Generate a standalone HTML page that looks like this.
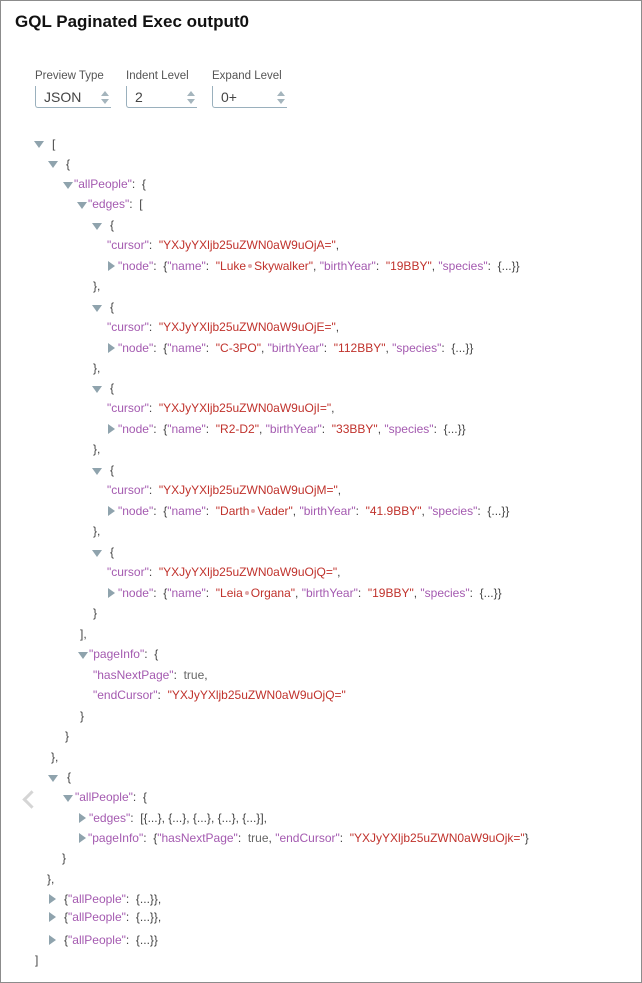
<!DOCTYPE html>
<html><head><meta charset="utf-8"><style>
body{margin:0;width:642px;height:983px;background:#fff;font-family:"Liberation Sans",sans-serif;position:relative;overflow:hidden}
.frame{position:absolute;left:0;top:0;width:640px;height:981px;border:1px solid #8c8c8c}
.title{position:absolute;left:15px;top:12px;font-size:17px;font-weight:bold;color:#111}
.lab{position:absolute;top:70px;font-size:11.5px;color:#555}
.sel{position:absolute;top:86px;height:22px;border:1px solid #9ab0bd;border-top:none;border-right:none;border-radius:0 0 0 3px;font-size:14px;color:#444;line-height:22px;padding-left:8px;box-sizing:border-box}
.sp{position:absolute;right:2px;top:5px;width:0;height:0;border-left:4px solid transparent;border-right:4px solid transparent;border-bottom:5px solid #a5b5bd}
.sp2{position:absolute;right:2px;top:13px;width:0;height:0;border-left:4px solid transparent;border-right:4px solid transparent;border-top:5px solid #a5b5bd}
.l{position:absolute;font-size:12px;line-height:14px;color:#444;white-space:pre}
.k{color:#a45ab0}.s{color:#c0322c}.g{color:#666}
.d{position:absolute;width:0;height:0;border-left:5px solid transparent;border-right:5px solid transparent;border-top:7px solid #8fa3ad}
.r{position:absolute;width:0;height:0;border-top:5px solid transparent;border-bottom:5px solid transparent;border-left:7px solid #8fa3ad}
.dot{display:inline-block;width:4px;height:4px;border-radius:2px;background:#e0a8a8;margin:0 2px 1px;vertical-align:middle}
.chev{position:absolute;left:25px;top:793px;width:10px;height:10px;border-left:3px solid #d5d5d5;border-bottom:3px solid #d5d5d5;transform:rotate(45deg)}
</style></head><body>
<div class="frame"></div>
<div class="title">GQL Paginated Exec output0</div>
<div class="lab" style="left:35px">Preview Type</div>
<div class="lab" style="left:126px">Indent Level</div>
<div class="lab" style="left:212px">Expand Level</div>
<div class="sel" style="left:35px;width:76px">JSON<span class="sp"></span><span class="sp2"></span></div>
<div class="sel" style="left:126px;width:71px">2<span class="sp"></span><span class="sp2"></span></div>
<div class="sel" style="left:212px;width:75px">0+<span class="sp"></span><span class="sp2"></span></div>
<div class="chev"></div>

<div class="d" style="left:34px;top:141px"></div><div class="l" style="left:52px;top:137px">[</div>
<div class="d" style="left:48px;top:161px"></div><div class="l" style="left:66px;top:157px">{</div>
<div class="d" style="left:63px;top:182px"></div><div class="l" style="left:74px;top:177px"><span class="k">"allPeople"</span>:  {</div>
<div class="d" style="left:77px;top:202px"></div><div class="l" style="left:88px;top:197px"><span class="k">"edges"</span>:  [</div>

<div class="d" style="left:92px;top:223px"></div><div class="l" style="left:110px;top:218px">{</div>
<div class="l" style="left:107px;top:238px"><span class="k">"cursor"</span>:  <span class="s">"YXJyYXljb25uZWN0aW9uOjA="</span>,</div>
<div class="r" style="left:108px;top:261px"></div><div class="l" style="left:118px;top:259px"><span class="k">"node"</span>:  {<span class="k">"name"</span>:  <span class="s">"Luke<span class="dot"></span>Skywalker"</span>, <span class="k">"birthYear"</span>:  <span class="s">"19BBY"</span>, <span class="k">"species"</span>:  {...}}</div>
<div class="l" style="left:93px;top:279px">},</div>

<div class="d" style="left:92px;top:305px"></div><div class="l" style="left:110px;top:300px">{</div>
<div class="l" style="left:107px;top:320px"><span class="k">"cursor"</span>:  <span class="s">"YXJyYXljb25uZWN0aW9uOjE="</span>,</div>
<div class="r" style="left:108px;top:343px"></div><div class="l" style="left:118px;top:341px"><span class="k">"node"</span>:  {<span class="k">"name"</span>:  <span class="s">"C-3PO"</span>, <span class="k">"birthYear"</span>:  <span class="s">"112BBY"</span>, <span class="k">"species"</span>:  {...}}</div>
<div class="l" style="left:93px;top:361px">},</div>

<div class="d" style="left:92px;top:386px"></div><div class="l" style="left:110px;top:381px">{</div>
<div class="l" style="left:107px;top:401px"><span class="k">"cursor"</span>:  <span class="s">"YXJyYXljb25uZWN0aW9uOjI="</span>,</div>
<div class="r" style="left:108px;top:424px"></div><div class="l" style="left:118px;top:422px"><span class="k">"node"</span>:  {<span class="k">"name"</span>:  <span class="s">"R2-D2"</span>, <span class="k">"birthYear"</span>:  <span class="s">"33BBY"</span>, <span class="k">"species"</span>:  {...}}</div>
<div class="l" style="left:93px;top:442px">},</div>

<div class="d" style="left:92px;top:468px"></div><div class="l" style="left:110px;top:463px">{</div>
<div class="l" style="left:107px;top:483px"><span class="k">"cursor"</span>:  <span class="s">"YXJyYXljb25uZWN0aW9uOjM="</span>,</div>
<div class="r" style="left:108px;top:506px"></div><div class="l" style="left:118px;top:504px"><span class="k">"node"</span>:  {<span class="k">"name"</span>:  <span class="s">"Darth<span class="dot"></span>Vader"</span>, <span class="k">"birthYear"</span>:  <span class="s">"41.9BBY"</span>, <span class="k">"species"</span>:  {...}}</div>
<div class="l" style="left:93px;top:524px">},</div>

<div class="d" style="left:92px;top:550px"></div><div class="l" style="left:110px;top:545px">{</div>
<div class="l" style="left:107px;top:565px"><span class="k">"cursor"</span>:  <span class="s">"YXJyYXljb25uZWN0aW9uOjQ="</span>,</div>
<div class="r" style="left:108px;top:588px"></div><div class="l" style="left:118px;top:586px"><span class="k">"node"</span>:  {<span class="k">"name"</span>:  <span class="s">"Leia<span class="dot"></span>Organa"</span>, <span class="k">"birthYear"</span>:  <span class="s">"19BBY"</span>, <span class="k">"species"</span>:  {...}}</div>
<div class="l" style="left:93px;top:606px">}</div>

<div class="l" style="left:80px;top:627px">],</div>
<div class="d" style="left:78px;top:652px"></div><div class="l" style="left:89px;top:647px"><span class="k">"pageInfo"</span>:  {</div>
<div class="l" style="left:93px;top:668px"><span class="k">"hasNextPage"</span>:  <span class="g">true</span>,</div>
<div class="l" style="left:93px;top:688px"><span class="k">"endCursor"</span>:  <span class="s">"YXJyYXljb25uZWN0aW9uOjQ="</span></div>
<div class="l" style="left:80px;top:709px">}</div>
<div class="l" style="left:65px;top:729px">}</div>
<div class="l" style="left:51px;top:750px">},</div>
<div class="d" style="left:48px;top:775px"></div><div class="l" style="left:67px;top:770px">{</div>
<div class="d" style="left:63px;top:795px"></div><div class="l" style="left:75px;top:790px"><span class="k">"allPeople"</span>:  {</div>
<div class="r" style="left:79px;top:813px"></div><div class="l" style="left:89px;top:811px"><span class="k">"edges"</span>:  [{...}, {...}, {...}, {...}, {...}],</div>
<div class="r" style="left:79px;top:833px"></div><div class="l" style="left:88px;top:831px"><span class="k">"pageInfo"</span>:  {<span class="k">"hasNextPage"</span>:  <span class="g">true</span>, <span class="k">"endCursor"</span>:  <span class="s">"YXJyYXljb25uZWN0aW9uOjk="</span>}</div>
<div class="l" style="left:62px;top:851px">}</div>
<div class="l" style="left:47px;top:872px">},</div>
<div class="r" style="left:49px;top:894px"></div><div class="l" style="left:64px;top:892px">{<span class="k">"allPeople"</span>:  {...}},</div>
<div class="r" style="left:49px;top:912px"></div><div class="l" style="left:64px;top:910px">{<span class="k">"allPeople"</span>:  {...}},</div>
<div class="r" style="left:49px;top:935px"></div><div class="l" style="left:64px;top:933px">{<span class="k">"allPeople"</span>:  {...}}</div>
<div class="l" style="left:35px;top:953px">]</div>
</body></html>
